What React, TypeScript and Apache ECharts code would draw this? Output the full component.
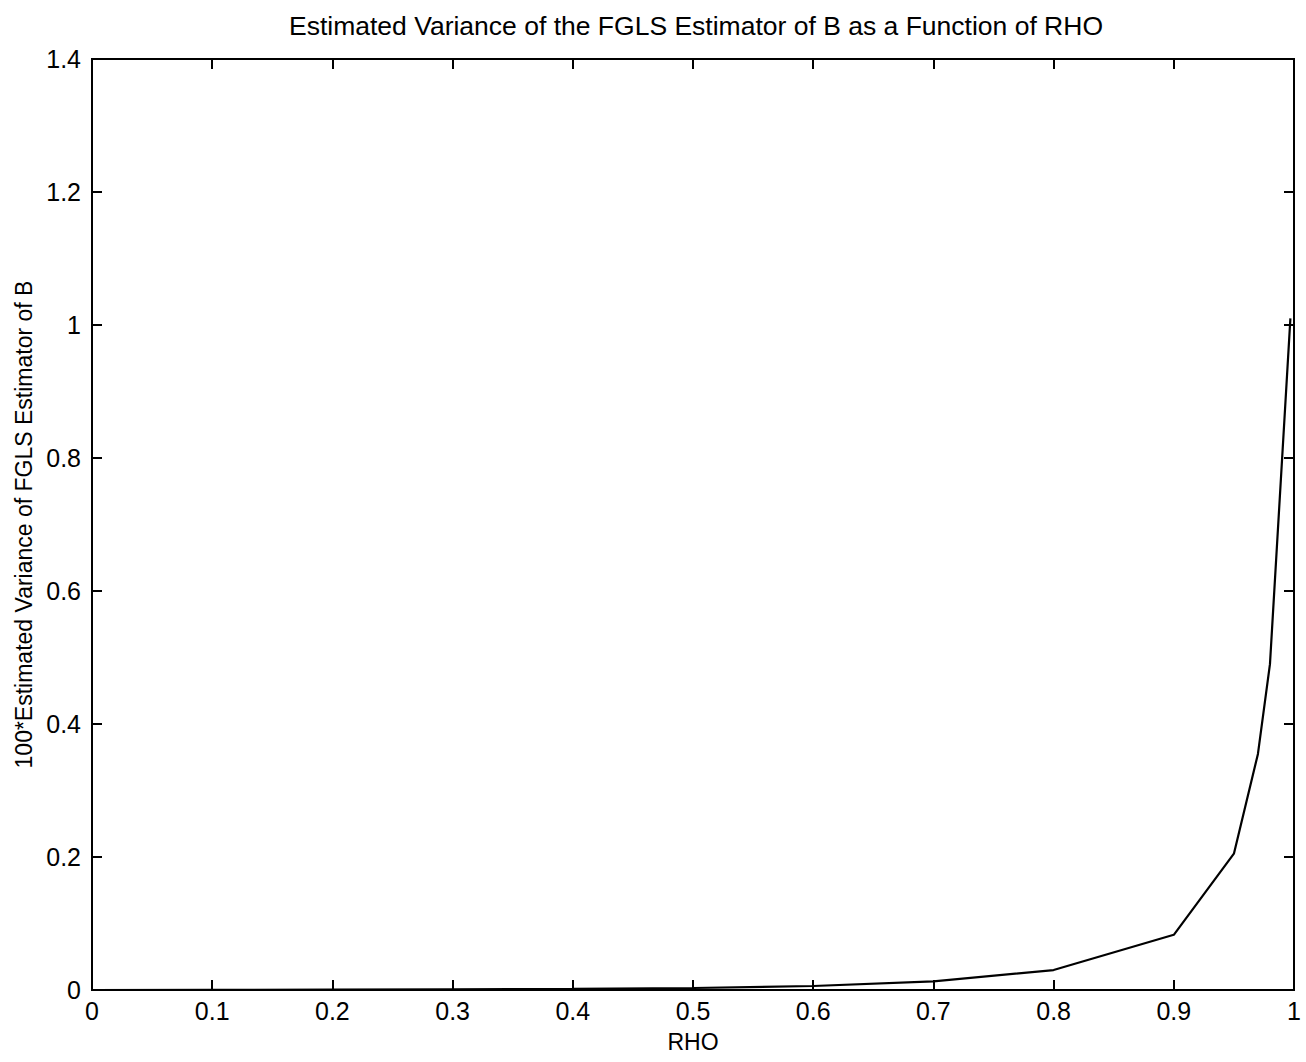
import React, { useEffect, useRef } from "react";
import * as echarts from "echarts";

const rho = [0, 0.1, 0.2, 0.3, 0.4, 0.5, 0.6, 0.7, 0.8, 0.9, 0.95, 0.97, 0.98, 0.997];
const variance = [0, 0.0003, 0.0006, 0.001, 0.0018, 0.003, 0.006, 0.013, 0.03, 0.083, 0.205, 0.355, 0.49, 1.01];
const titleText = "Estimated Variance of the FGLS Estimator of B as a Function of RHO";
const xName = "RHO";
const yName = "100*Estimated Variance of FGLS Estimator of B";

export default function App() {
  const ref = useRef<HTMLDivElement>(null);
  useEffect(() => {
    if (!ref.current) return;
    const chart = echarts.init(ref.current, null, { renderer: "svg" });
    const font = "'Liberation Sans', Arial, sans-serif";
    const axisLine = { show: true, onZero: false, lineStyle: { color: "#000", width: 2 } };
    const tick = { show: true, inside: true, length: 10, lineStyle: { color: "#000", width: 2 } };
    const label = { color: "#000", fontSize: 25, fontFamily: font };
    chart.setOption({
      animation: false,
      backgroundColor: "#fff",
      title: {
        text: titleText,
        left: 691,
        textAlign: "center",
        top: 7,
        textStyle: { color: "#000", fontSize: 26.5, fontWeight: "normal", fontFamily: font },
      },
      grid: {
        left: 92,
        right: 12,
        top: 59,
        bottom: 72,
        show: true,
        borderColor: "#000",
        borderWidth: 2,
        backgroundColor: "transparent",
      },
      xAxis: [
        {
          type: "value",
          min: 0,
          max: 1,
          interval: 0.1,
          position: "bottom",
          axisLine,
          axisTick: tick,
          axisLabel: { ...label, margin: 8 },
          splitLine: { show: false },
          name: xName,
          nameLocation: "middle",
          nameGap: 40,
          nameTextStyle: { color: "#000", fontSize: 23, fontFamily: font },
        },
        {
          type: "value",
          min: 0,
          max: 1,
          interval: 0.1,
          position: "top",
          axisLine,
          axisTick: tick,
          axisLabel: { show: false },
          splitLine: { show: false },
        },
      ],
      yAxis: [
        {
          type: "value",
          min: 0,
          max: 1.4,
          interval: 0.2,
          position: "left",
          axisLine,
          axisTick: tick,
          axisLabel: { ...label, margin: 11 },
          splitLine: { show: false },
          name: yName,
          nameLocation: "middle",
          nameGap: 53,
          nameTextStyle: { color: "#000", fontSize: 23, fontFamily: font },
        },
        {
          type: "value",
          min: 0,
          max: 1.4,
          interval: 0.2,
          position: "right",
          axisLine,
          axisTick: tick,
          axisLabel: { show: false },
          splitLine: { show: false },
        },
      ],
      series: [
        {
          type: "line",
          data: rho.map((r, i) => [r, variance[i]]),
          showSymbol: false,
          symbol: "none",
          lineStyle: { color: "#000", width: 2.2 },
        },
        {
          type: "line",
          xAxisIndex: 1,
          yAxisIndex: 1,
          data: [],
          symbol: "none",
          lineStyle: { color: "#000", width: 0 },
        },
      ],
    });
    return () => chart.dispose();
  }, []);
  return (
    <div
      ref={ref}
      style={{ position: "absolute", left: 0, top: 0, width: 1306, height: 1062, background: "#fff" }}
    />
  );
}
